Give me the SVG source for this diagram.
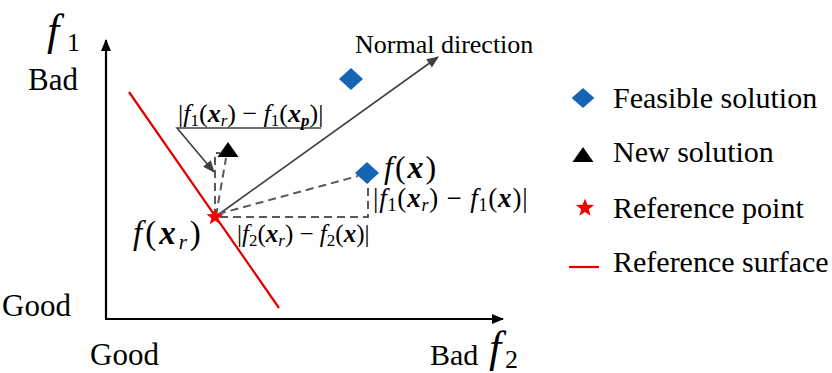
<svg xmlns="http://www.w3.org/2000/svg" width="832" height="373" viewBox="0 0 832 373">
<style>
  text { font-family: "Liberation Serif", "DejaVu Serif", "Noto Serif", serif; fill: #000; }
  .i { font-style: italic; }
  .bx { font-style: italic; font-weight: bold; }
  .axis { stroke: #000; stroke-width: 2.2; fill: none; }
  .arr { stroke: #404040; stroke-width: 1.6; fill: none; }
  .dash { stroke: #595959; stroke-width: 2; fill: none; stroke-dasharray: 8 5; }
  .red { stroke: #e00000; stroke-width: 2.2; fill: none; }
  .blue { fill: #1565b5; }
  .blk { fill: #000; }
  .rstar { fill: #f00000; }
</style>
<defs>
  <marker id="ah" viewBox="0 0 12 10" refX="11" refY="5" markerWidth="12" markerHeight="10" markerUnits="userSpaceOnUse" orient="auto">
    <path d="M0,0 L12,5 L0,10 Z" fill="#000"/>
  </marker>
  <marker id="ag" viewBox="0 0 12 10" refX="11" refY="5" markerWidth="13" markerHeight="10" markerUnits="userSpaceOnUse" orient="auto">
    <path d="M0,0 L12,5 L0,10 Z" fill="#404040"/>
  </marker>
  <path id="star" d="M0,-12 L2.94,-4.05 L11.41,-3.71 L4.76,1.55 L7.05,9.71 L0,5 L-7.05,9.71 L-4.76,1.55 L-11.41,-3.71 L-2.94,-4.05 Z"/>
  <path id="dia" d="M0,-11 L12,0 L0,11 L-12,0 Z"/>
  <path id="tri" d="M0,-15 L10.5,0 L-10.5,0 Z"/>
</defs>

<g id="axes">
  <line class="axis" x1="106" y1="319" x2="106" y2="40" marker-end="url(#ah)"/>
  <line class="axis" x1="105" y1="319" x2="503" y2="319" marker-end="url(#ah)"/>
  <text class="i" x="47" y="45" font-size="44">f</text>
  <text x="67" y="51" font-size="26">1</text>
  <text x="28" y="90" font-size="31">Bad</text>
  <text x="2" y="316" font-size="31">Good</text>
  <text x="90" y="365" font-size="31">Good</text>
  <text x="430" y="365" font-size="30">Bad</text>
  <text class="i" x="489" y="362" font-size="44">f</text>
  <text x="505" y="368" font-size="26">2</text>
</g>

<g id="reference-surface">
  <line class="red" x1="129" y1="92" x2="279" y2="308"/>
</g>

<g id="connectors">
  <line class="arr" x1="215" y1="217" x2="438" y2="57" marker-end="url(#ag)"/>
  <polyline class="arr" points="321,128 177,128 214,172" marker-end="url(#ag)"/>
  <polyline class="dash" points="215,217 215,153 220,153"/>
  <line class="dash" x1="216" y1="216" x2="226" y2="158"/>
  <line class="dash" x1="218" y1="214" x2="358" y2="176"/>
  <polyline class="dash" points="220,217 368,217 368,182"/>
</g>

<g id="normal-direction-label">
  <text x="355" y="53" font-size="26">Normal direction</text>
</g>

<g id="feasible-top">
  <use href="#dia" x="351" y="79" class="blue"/>
</g>

<g id="feasible-x">
  <use href="#dia" x="367" y="173" class="blue"/>
  <text x="384" y="178" font-size="32" letter-spacing="2"><tspan class="i">f</tspan>(<tspan class="bx">x</tspan>)</text>
  <text x="373" y="207" font-size="27" letter-spacing="0.8">|<tspan class="i">f</tspan><tspan font-size="18" dy="4">1</tspan><tspan dy="-4">(</tspan><tspan class="bx">x</tspan><tspan class="i" font-size="18" dy="4">r</tspan><tspan dy="-4">) − </tspan><tspan class="i">f</tspan><tspan font-size="18" dy="4">1</tspan><tspan dy="-4">(</tspan><tspan class="bx">x</tspan>)|</text>
</g>

<g id="new-solution">
  <use href="#tri" x="228" y="157" class="blk"/>
  <text x="178" y="122" font-size="26">|<tspan class="i">f</tspan><tspan font-size="17" dy="4">1</tspan><tspan dy="-4">(</tspan><tspan class="bx">x</tspan><tspan class="i" font-size="17" dy="4">r</tspan><tspan dy="-4">) − </tspan><tspan class="i">f</tspan><tspan font-size="17" dy="4">1</tspan><tspan dy="-4">(</tspan><tspan class="bx">x</tspan><tspan class="bx" font-size="17" dy="4">p</tspan><tspan dy="-4">)|</tspan></text>
</g>

<g id="reference-point">
  <use href="#star" class="rstar" transform="translate(215,217) scale(0.75)"/>
  <text x="133" y="244" font-size="33" letter-spacing="3"><tspan class="i">f</tspan>(<tspan class="bx">x</tspan><tspan class="i" font-size="21" dy="5">r</tspan><tspan dy="-5">)</tspan></text>
  <text x="237" y="242" font-size="25">|<tspan class="i">f</tspan><tspan font-size="17" dy="4">2</tspan><tspan dy="-4">(</tspan><tspan class="bx">x</tspan><tspan class="i" font-size="17" dy="4">r</tspan><tspan dy="-4">) − </tspan><tspan class="i">f</tspan><tspan font-size="17" dy="4">2</tspan><tspan dy="-4">(</tspan><tspan class="bx">x</tspan>)|</text>
</g>

<g id="legend">
  <g id="legend-feasible">
    <use href="#dia" class="blue" transform="translate(583,98) scale(0.95,0.9)"/>
    <text x="613" y="108" font-size="30">Feasible solution</text>
  </g>
  <g id="legend-new">
    <use href="#tri" x="583" y="162" class="blk"/>
    <text x="613" y="162" font-size="30">New solution</text>
  </g>
  <g id="legend-reference-point">
    <use href="#star" class="rstar" transform="translate(585,208) scale(0.8)"/>
    <text x="613" y="218" font-size="30">Reference point</text>
  </g>
  <g id="legend-reference-surface">
    <line class="red" x1="569" y1="267" x2="599" y2="267"/>
    <text x="613" y="272" font-size="30">Reference surface</text>
  </g>
</g>
</svg>
